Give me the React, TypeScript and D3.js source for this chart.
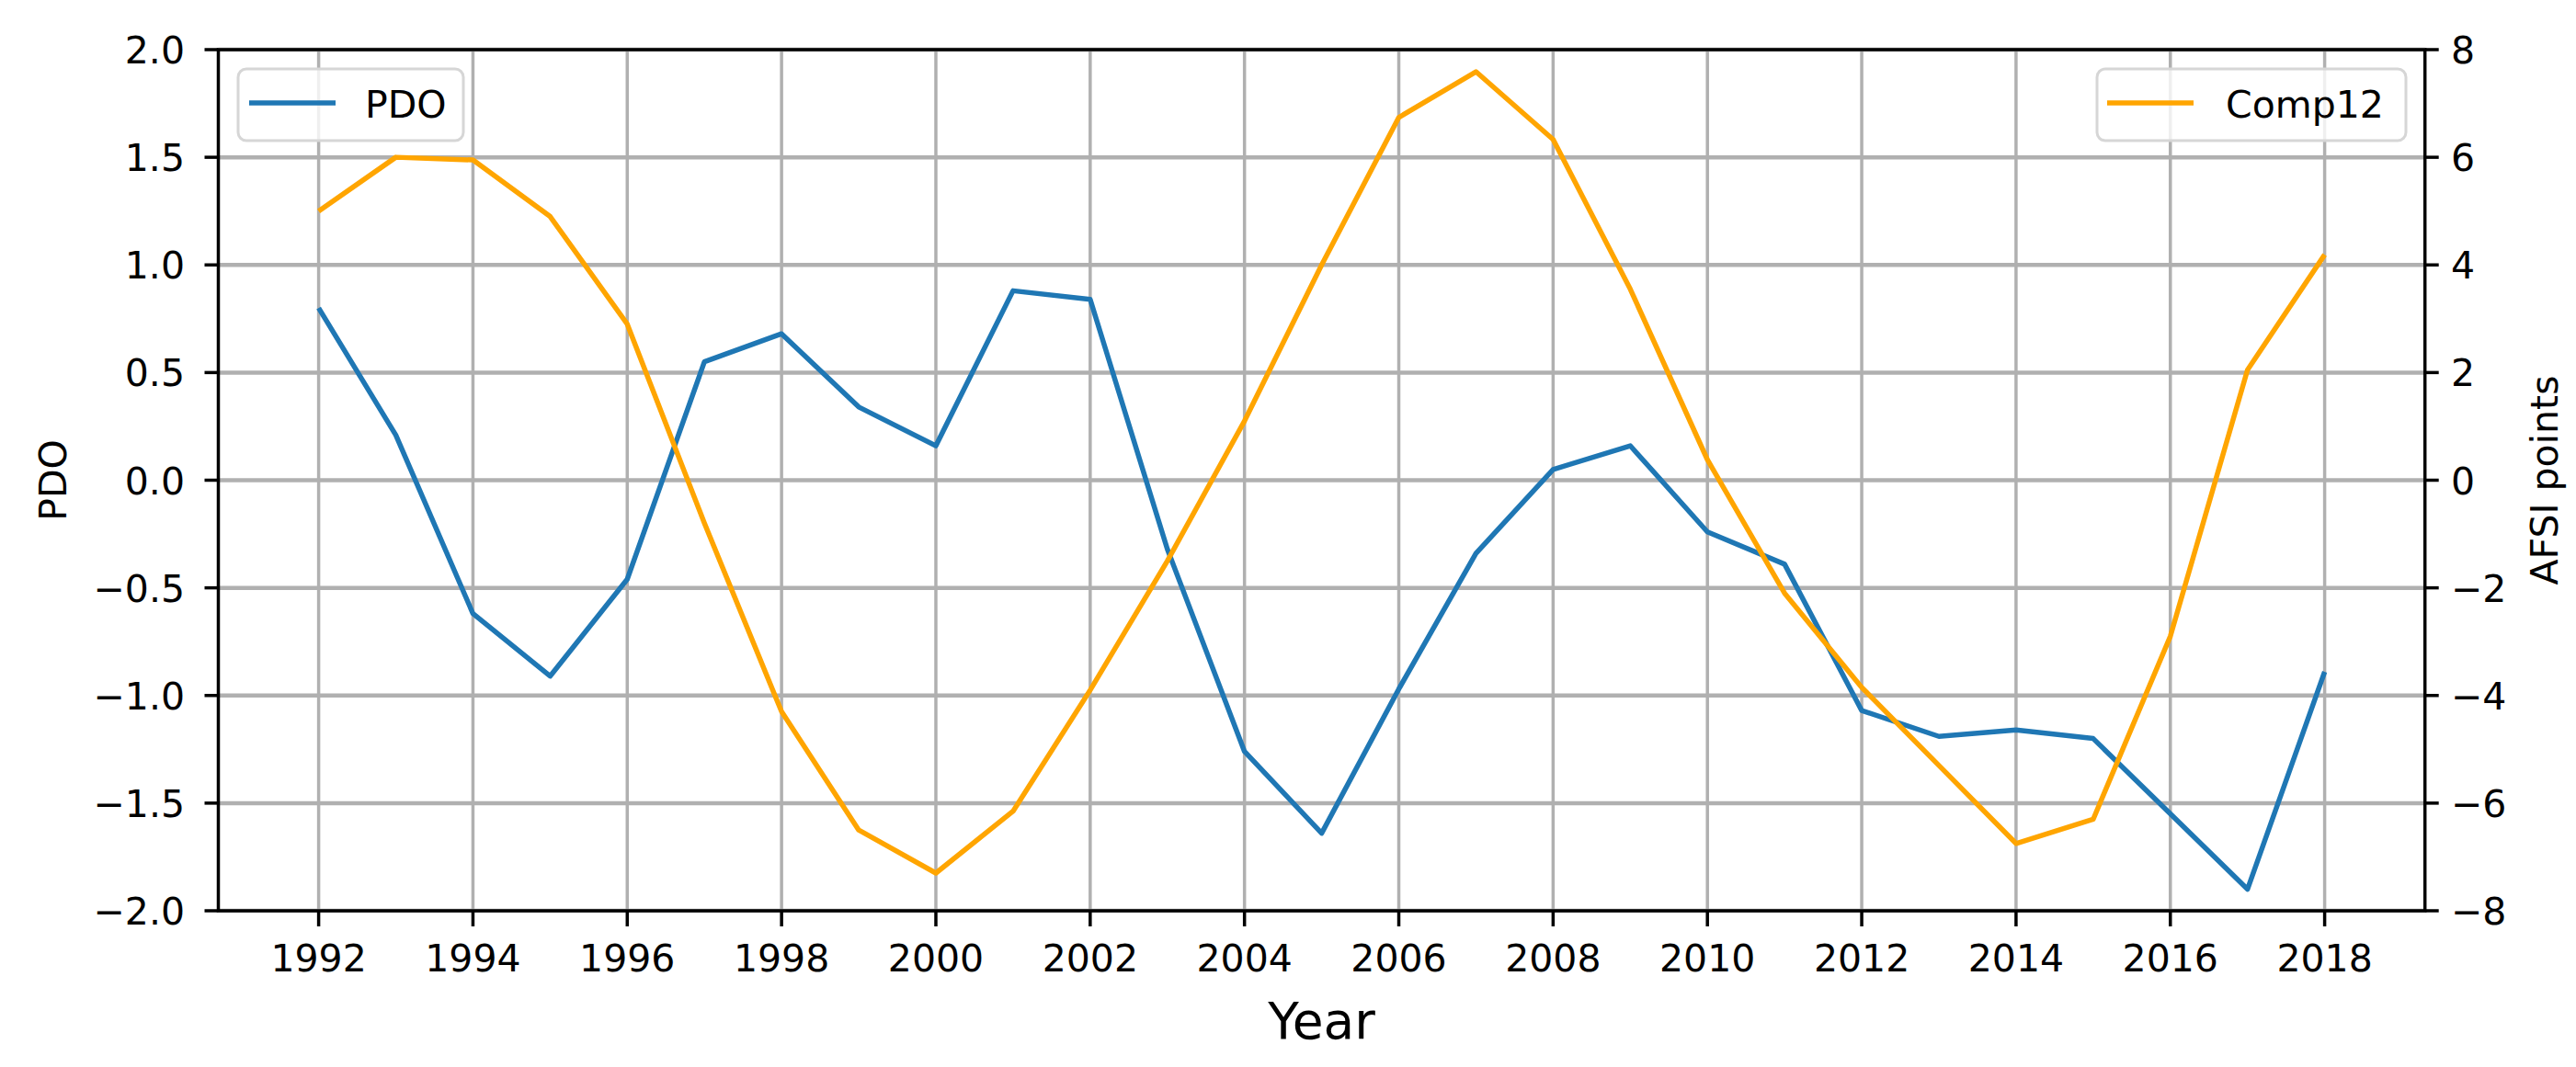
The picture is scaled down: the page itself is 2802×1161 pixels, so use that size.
import React from 'react';
import * as d3 from 'd3';

const YEARS = [1992, 1993, 1994, 1995, 1996, 1997, 1998, 1999, 2000, 2001, 2002, 2003, 2004, 2005, 2006, 2007, 2008, 2009, 2010, 2011, 2012, 2013, 2014, 2015, 2016, 2017, 2018];
const PDO = [0.80, 0.21, -0.62, -0.91, -0.46, 0.55, 0.68, 0.34, 0.16, 0.88, 0.84, -0.32, -1.26, -1.64, -0.97, -0.34, 0.05, 0.16, -0.24, -0.39, -1.07, -1.19, -1.16, -1.20, -1.55, -1.90, -0.89];
const COMP12 = [5.0, 6.0, 5.95, 4.9, 2.9, -0.8, -4.3, -6.5, -7.3, -6.15, -3.9, -1.5, 1.1, 4.0, 6.74, 7.59, 6.33, 3.55, 0.38, -2.1, -3.85, -5.3, -6.75, -6.3, -2.9, 2.05, 4.19];
const X_TICKS = [1992, 1994, 1996, 1998, 2000, 2002, 2004, 2006, 2008, 2010, 2012, 2014, 2016, 2018];
const PDO_TICKS = [-2.0, -1.5, -1.0, -0.5, 0.0, 0.5, 1.0, 1.5, 2.0];
const AFSI_TICKS = [-8, -6, -4, -2, 0, 2, 4, 6, 8];

const W = 2802;
const H = 1161;
const L = 237.5, R = 2637.7, T = 54, B = 991;
const FONT = 'DejaVu Sans, sans-serif';
const BLUE = '#1f77b4';
const ORANGE = '#ffa500';

export default function App() {
  const x = d3.scaleLinear().domain([1990.7, 2019.3]).range([L, R]);
  const yL = d3.scaleLinear().domain([-2, 2]).range([B, T]);
  const yR = d3.scaleLinear().domain([-8, 8]).range([B, T]);
  const fmtL = d3.format('.1f');
  const fmtR = d3.format('d');

  const pdoLine = d3.line<number>().x((_, i) => x(YEARS[i])).y((d) => yL(d))(PDO) || '';
  const compLine = d3.line<number>().x((_, i) => x(YEARS[i])).y((d) => yR(d))(COMP12) || '';

  return (
    <svg width={W} height={H} style={{ position: 'absolute', left: 0, top: 0, background: '#fff' }} fontFamily={FONT}>
      <rect x={0} y={0} width={W} height={H} fill="#fff" />
      {/* grid */}
      {X_TICKS.map((t) => (
        <line key={'gx' + t} x1={x(t)} x2={x(t)} y1={T} y2={B} stroke="#b0b0b0" strokeWidth={3.5} />
      ))}
      {PDO_TICKS.map((t) => (
        <line key={'gy' + t} x1={L} x2={R} y1={yL(t)} y2={yL(t)} stroke="#b0b0b0" strokeWidth={4.5} />
      ))}
      {/* lines */}
      <path d={pdoLine} fill="none" stroke={BLUE} strokeWidth={5.5} strokeLinejoin="round" />
      <path d={compLine} fill="none" stroke={ORANGE} strokeWidth={5.5} strokeLinejoin="round" />
      {/* spines */}
      <rect x={L} y={T} width={R - L} height={B - T} fill="none" stroke="#000" strokeWidth={3.5} />
      {/* x ticks */}
      {X_TICKS.map((t) => (
        <g key={'xt' + t}>
          <line x1={x(t)} x2={x(t)} y1={B} y2={B + 17} stroke="#000" strokeWidth={3.5} />
          <text x={x(t)} y={1057} fontSize={41} textAnchor="middle" fill="#000">{String(t)}</text>
        </g>
      ))}
      {/* left y ticks */}
      {PDO_TICKS.map((t) => (
        <g key={'yl' + t}>
          <line x1={L - 15} x2={L} y1={yL(t)} y2={yL(t)} stroke="#000" strokeWidth={3.5} />
          <text x={201} y={yL(t) + 15} fontSize={41} textAnchor="end" fill="#000">{fmtL(t)}</text>
        </g>
      ))}
      {/* right y ticks */}
      {AFSI_TICKS.map((t) => (
        <g key={'yr' + t}>
          <line x1={R} x2={R + 15} y1={yR(t)} y2={yR(t)} stroke="#000" strokeWidth={3.5} />
          <text x={2666} y={yR(t) + 15} fontSize={41} textAnchor="start" fill="#000">{fmtR(t)}</text>
        </g>
      ))}
      {/* axis labels */}
      <text x={1437.6} y={1130} fontSize={55} textAnchor="middle" fill="#000">Year</text>
      <text transform={`translate(72, ${(T + B) / 2}) rotate(-90)`} fontSize={41} textAnchor="middle" fill="#000">PDO</text>
      <text transform={`translate(2782, ${(T + B) / 2}) rotate(-90)`} fontSize={41} textAnchor="middle" fill="#000">AFSI points</text>
      {/* legends */}
      <g>
        <rect x={259} y={75} width={245} height={78} rx={9} fill="#fff" fillOpacity={0.8} stroke="#d6d6d6" strokeWidth={3} />
        <line x1={271} x2={365} y1={112} y2={112} stroke={BLUE} strokeWidth={5.5} />
        <text x={397} y={128} fontSize={41} fill="#000">PDO</text>
      </g>
      <g>
        <rect x={2281} y={75} width={336} height={78} rx={9} fill="#fff" fillOpacity={0.8} stroke="#d6d6d6" strokeWidth={3} />
        <line x1={2292} x2={2386} y1={112} y2={112} stroke={ORANGE} strokeWidth={5.5} />
        <text x={2421} y={128} fontSize={41} fill="#000">Comp12</text>
      </g>
    </svg>
  );
}
